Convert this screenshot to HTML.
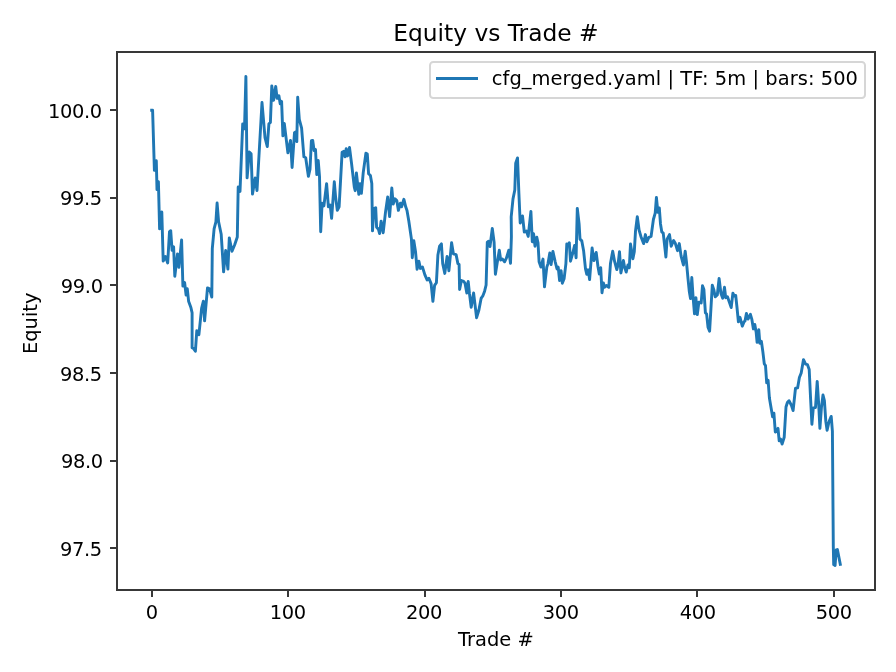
<!DOCTYPE html>
<html lang="en"><head><meta charset="utf-8"><title>Equity vs Trade #</title>
<style>html,body{margin:0;padding:0;background:#fff}body{width:896px;height:672px;overflow:hidden}svg{display:block}text{font-family:"DejaVu Sans","Liberation Sans",sans-serif;fill:#000}</style></head><body>
<svg width="896" height="672" viewBox="0 0 896 672">
<rect x="0" y="0" width="896" height="672" fill="#ffffff"/>
<path d="M151.7 110.3 L152.6 110.3 L154.4 170.4 L156.3 160.7 L157.0 189.6 L158.4 181.6 L159.6 228.9 L161.8 212.0 L163.2 261.1 L165.4 256.6 L167.7 262.9 L169.5 231.6 L170.7 230.7 L172.1 250.4 L173.6 246.8 L174.8 276.2 L177.5 253.9 L178.9 267.3 L181.6 240.0 L182.9 286.1 L184.6 282.5 L186.1 295.0 L187.3 288.8 L188.6 301.2 L190.9 307.5 L192.1 312.9 L192.1 347.7 L193.6 348.6 L195.4 351.2 L196.8 330.7 L198.9 334.6 L201.6 308.4 L203.4 301.2 L204.6 320.9 L207.5 287.9 L209.6 288.8 L211.8 297.1 L212.3 248.6 L214.1 228.9 L215.9 221.8 L217.1 203.0 L218.6 221.8 L221.2 234.3 L223.6 271.8 L225.7 250.4 L227.9 269.1 L229.3 237.9 L232.0 251.2 L234.6 245.0 L237.3 237.0 L238.2 187.0 L240.0 191.4 L242.7 123.9 L244.5 128.8 L245.9 76.4 L247.1 177.9 L249.3 152.0 L251.1 153.8 L252.5 194.1 L255.2 178.0 L257.0 190.5 L262.0 102.5 L265.0 137.7 L267.3 146.6 L268.9 123.9 L270.4 122.5 L271.8 85.9 L273.6 100.2 L275.7 86.4 L277.1 98.4 L278.9 95.7 L280.2 103.8 L281.6 101.4 L282.9 135.9 L284.3 123.4 L287.9 152.9 L290.5 140.4 L292.1 167.5 L294.5 132.7 L295.7 131.8 L296.8 141.6 L297.7 97.3 L299.3 119.3 L301.6 128.2 L303.9 156.8 L305.7 157.7 L308.4 176.4 L310.0 169.3 L311.4 140.7 L312.7 140.4 L314.1 150.5 L315.5 149.6 L316.8 174.6 L318.2 160.4 L319.5 176.4 L320.7 231.8 L322.1 203.2 L323.9 205.9 L326.6 183.6 L328.4 206.8 L330.2 205.0 L331.6 218.4 L334.3 181.8 L335.5 196.1 L337.3 210.4 L339.1 206.8 L342.1 152.3 L343.6 151.4 L345.0 156.8 L346.2 148.8 L347.5 155.9 L349.5 147.5 L351.6 163.9 L354.3 187.1 L355.2 190.7 L356.4 172.9 L358.8 194.3 L360.0 183.6 L361.4 193.4 L363.2 172.9 L365.9 153.2 L367.3 154.1 L368.6 173.8 L370.4 175.5 L371.8 183.6 L372.5 230.9 L373.9 208.6 L375.7 207.7 L376.6 227.3 L378.4 229.1 L379.6 233.6 L381.1 221.1 L383.2 232.7 L385.5 212.1 L387.7 197.0 L389.6 216.6 L391.8 188.0 L393.2 204.1 L395.0 198.8 L396.8 200.5 L398.4 210.4 L400.4 203.2 L401.6 206.8 L403.9 199.3 L405.7 206.8 L407.0 210.4 L408.8 221.1 L411.4 238.9 L412.3 257.7 L413.8 240.7 L415.5 251.4 L417.1 269.3 L418.9 261.2 L420.4 268.4 L422.5 267.1 L424.8 274.6 L427.1 280.0 L428.9 278.2 L431.1 283.6 L432.9 301.4 L434.6 285.4 L436.4 282.7 L437.9 255.0 L439.6 246.1 L441.4 243.9 L442.7 263.6 L444.8 273.4 L447.1 256.4 L448.9 270.7 L451.6 242.7 L453.4 253.8 L456.1 254.6 L457.9 263.6 L459.1 264.5 L459.6 289.5 L461.4 280.5 L463.6 281.4 L465.0 283.2 L466.8 293.0 L468.2 281.4 L469.5 293.9 L471.2 307.3 L473.6 293.0 L474.8 302.9 L476.6 317.7 L478.9 310.0 L481.1 298.4 L482.9 295.7 L484.6 291.2 L486.1 285.0 L487.3 242.1 L488.6 241.2 L490.0 246.6 L492.3 228.4 L494.1 242.1 L495.4 274.3 L497.1 263.6 L499.3 250.2 L500.7 260.0 L502.5 259.1 L504.6 261.8 L506.4 258.2 L508.8 250.2 L510.5 263.2 L511.4 236.8 L511.2 216.8 L513.0 198.9 L514.8 190.0 L515.7 163.2 L517.5 157.9 L518.9 193.6 L520.2 223.0 L522.5 215.9 L524.3 232.0 L526.4 231.1 L528.2 236.4 L530.9 211.4 L532.3 241.8 L533.6 233.8 L535.0 246.2 L536.8 237.3 L538.0 242.7 L539.1 261.8 L540.9 267.1 L543.0 259.1 L544.5 286.8 L546.8 267.1 L548.0 263.6 L549.8 252.9 L551.1 264.5 L552.9 251.4 L555.2 261.8 L557.0 268.9 L558.2 267.1 L559.6 280.5 L561.1 270.7 L562.3 283.2 L564.1 278.8 L565.9 263.6 L566.8 243.9 L567.9 245.4 L569.3 242.7 L570.5 261.2 L572.9 252.5 L574.6 245.4 L576.1 257.7 L577.3 208.4 L579.1 223.9 L580.0 239.1 L581.8 240.9 L583.6 250.7 L585.5 268.9 L586.8 274.3 L588.2 269.8 L589.6 279.6 L592.1 248.0 L593.9 260.5 L596.2 252.5 L598.0 266.8 L599.3 273.9 L600.7 267.7 L602.0 292.7 L603.4 282.9 L604.6 287.3 L606.4 285.5 L608.8 287.3 L610.5 263.2 L612.7 251.2 L614.6 261.4 L616.8 269.5 L618.0 265.0 L619.5 251.6 L620.9 273.0 L623.4 260.5 L624.5 266.8 L626.2 272.1 L627.9 265.0 L629.3 267.7 L630.5 243.9 L632.9 258.8 L634.3 251.6 L635.5 231.1 L637.3 216.8 L639.1 230.2 L640.9 236.4 L643.6 243.6 L645.4 234.6 L646.8 241.8 L648.9 237.3 L651.1 236.4 L653.4 219.5 L655.2 213.2 L656.4 197.5 L657.9 212.3 L659.3 207.9 L660.5 223.9 L661.8 232.0 L663.2 232.9 L664.6 245.4 L665.9 257.0 L667.1 239.1 L669.5 234.6 L671.2 246.2 L673.6 240.5 L675.4 243.6 L677.5 250.7 L679.3 243.6 L681.1 256.1 L683.4 265.0 L685.2 251.1 L686.4 261.4 L687.9 277.5 L689.3 291.4 L690.5 298.6 L691.8 277.5 L693.2 298.6 L694.5 313.8 L695.9 297.7 L697.3 314.6 L698.9 302.1 L701.2 303.0 L702.5 285.7 L703.9 289.6 L705.4 312.9 L706.6 313.8 L708.0 327.1 L709.6 331.2 L711.1 305.7 L712.3 285.2 L713.8 289.6 L715.2 296.8 L717.3 295.0 L719.1 278.4 L720.9 293.2 L722.7 298.2 L724.5 287.3 L725.7 297.7 L727.5 296.8 L729.3 302.1 L731.2 307.5 L732.9 293.2 L734.3 295.9 L735.7 295.5 L737.0 307.5 L738.4 321.8 L740.0 317.3 L742.3 326.2 L744.1 321.8 L745.0 320.9 L746.4 313.4 L748.0 319.1 L750.4 314.3 L751.8 319.1 L753.4 328.9 L754.8 324.5 L756.2 332.5 L757.1 342.3 L758.8 329.8 L759.8 343.2 L761.4 341.4 L762.9 352.1 L764.3 363.8 L765.5 365.5 L766.7 382.9 L768.1 380.2 L769.4 398.0 L771.7 411.4 L772.6 416.8 L773.9 413.2 L775.3 432.0 L778.0 428.4 L779.2 440.9 L780.6 439.1 L782.1 444.1 L784.2 437.3 L786.0 407.0 L787.4 402.5 L789.0 400.7 L791.4 405.2 L793.1 410.5 L795.5 388.2 L797.6 387.9 L799.4 377.5 L801.2 373.0 L803.5 359.6 L805.6 364.1 L807.4 364.6 L809.2 369.5 L810.6 398.9 L811.9 424.3 L813.3 407.9 L815.5 407.5 L817.2 381.4 L818.7 404.3 L819.9 428.4 L821.4 407.9 L823.0 395.0 L824.4 400.7 L825.8 421.2 L827.1 430.2 L828.9 422.1 L831.2 416.4 L832.4 431.1 L833.3 546.4 L833.7 564.6 L835.1 565.5 L836.2 550.0 L837.4 549.6 L840.3 564.3" fill="none" stroke="#1f77b4" stroke-width="2.917" stroke-linejoin="round" stroke-linecap="square"/>
<g fill="#383838" shape-rendering="crispEdges">
<rect x="116" y="51" width="760" height="2"/>
<rect x="116" y="589" width="760" height="2"/>
<rect x="116" y="51" width="2" height="540"/>
<rect x="874" y="51" width="2" height="540"/>
<rect x="151" y="590" width="2" height="6.7"/>
<rect x="287" y="590" width="2" height="6.7"/>
<rect x="424" y="590" width="2" height="6.7"/>
<rect x="560" y="590" width="2" height="6.7"/>
<rect x="696" y="590" width="2" height="6.7"/>
<rect x="833" y="590" width="2" height="6.7"/>
<rect x="110" y="109" width="6.7" height="2"/>
<rect x="110" y="197" width="6.7" height="2"/>
<rect x="110" y="284" width="6.7" height="2"/>
<rect x="110" y="372" width="6.7" height="2"/>
<rect x="110" y="460" width="6.7" height="2"/>
<rect x="110" y="547" width="6.7" height="2"/>
</g>
<g font-size="19.444px">
<text x="151.81" y="619.40" text-anchor="middle" letter-spacing="-0.37">0</text>
<text x="287.81" y="619.40" text-anchor="middle" letter-spacing="-0.37">100</text>
<text x="424.01" y="619.40" text-anchor="middle" letter-spacing="-0.37">200</text>
<text x="560.82" y="619.40" text-anchor="middle" letter-spacing="-0.37">300</text>
<text x="697.72" y="619.40" text-anchor="middle" letter-spacing="-0.37">400</text>
<text x="833.82" y="619.40" text-anchor="middle" letter-spacing="-0.37">500</text>
<text x="101.85" y="118.40" text-anchor="end" letter-spacing="-0.37">100.0</text>
<text x="101.85" y="205.00" text-anchor="end" letter-spacing="-0.37">99.5</text>
<text x="102.65" y="292.60" text-anchor="end" letter-spacing="-0.37">99.0</text>
<text x="101.85" y="381.20" text-anchor="end" letter-spacing="-0.37">98.5</text>
<text x="102.85" y="467.80" text-anchor="end" letter-spacing="-0.37">98.0</text>
<text x="101.85" y="556.40" text-anchor="end" letter-spacing="-0.37">97.5</text>
<text x="495.90" y="646.20" text-anchor="middle">Trade #</text>
<text transform="translate(36.90 323.30) rotate(-90)" text-anchor="middle">Equity</text>
</g>
<text x="495.90" y="41.30" text-anchor="middle" font-size="23.333px">Equity vs Trade #</text>
<rect x="430.00" y="62.00" width="435.00" height="36.00" rx="3.3" ry="3.3" fill="#ffffff" fill-opacity="0.8" stroke="#cccccc" stroke-opacity="0.8" stroke-width="2"/>
<rect x="436" y="77" width="42" height="3" fill="#1f77b4" shape-rendering="crispEdges"/>
<text x="491.75" y="85.00" font-size="19.444px" letter-spacing="0.055">cfg_merged.yaml | TF: 5m | bars: 500</text>
</svg></body></html>
